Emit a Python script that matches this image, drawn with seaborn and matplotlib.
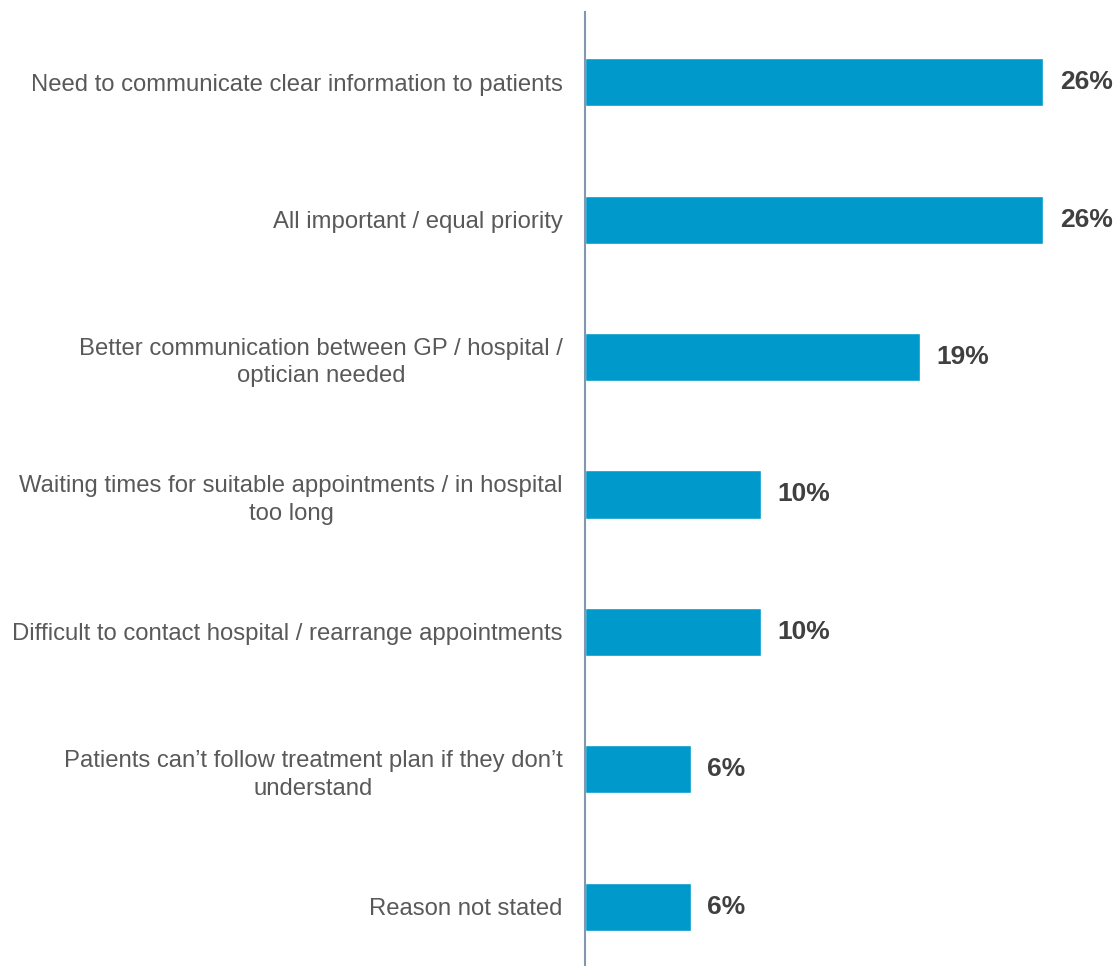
import matplotlib
matplotlib.use("Agg")
import matplotlib.pyplot as plt
import seaborn as sns
import pandas as pd

sns.set_style("white")
plt.rcParams["font.family"] = ["Liberation Sans", "DejaVu Sans"]

categories = [
    "Need to communicate clear information to patients",
    "All important / equal priority",
    "Better communication between GP / hospital /\noptician needed",
    "Waiting times for suitable appointments / in hospital\ntoo long",
    "Difficult to contact hospital / rearrange appointments",
    "Patients can\u2019t follow treatment plan if they don\u2019t\nunderstand",
    "Reason not stated",
]
values = [26, 26, 19, 10, 10, 6, 6]
value_labels = ["26%", "26%", "19%", "10%", "10%", "6%", "6%"]

df = pd.DataFrame({"Reason": categories, "Share": values})

fig = plt.figure(figsize=(11.16, 9.66), dpi=100)
ax = fig.add_axes([585 / 1116, 0.0, 1 - 585 / 1116, 1 - 12 / 966])

sns.barplot(
    data=df,
    x="Share",
    y="Reason",
    orient="h",
    color="#0099CC",
    saturation=1,
    width=0.35,
    ax=ax,
)

ax.set_xlim(0, 30.15)
ax.set_ylim(6.43, -0.51)
ax.set_xlabel("")
ax.set_ylabel("")
ax.set_xticks([])

for s in ["top", "right", "bottom"]:
    ax.spines[s].set_visible(False)
ax.spines["left"].set_color("#8497B0")
ax.spines["left"].set_linewidth(1.5)

ax.tick_params(axis="y", length=0, pad=16, labelsize=17.2, labelcolor="#595959")
for lbl in ax.get_yticklabels():
    lbl.set_multialignment("center")
    lbl.set_linespacing(1.35)

for i, (v, t) in enumerate(zip(values, value_labels)):
    ax.text(v + 0.95, i, t, ha="left", va="center", fontsize=19,
            fontweight="bold", color="#404040")

fig.savefig("out.png", dpi=100)
